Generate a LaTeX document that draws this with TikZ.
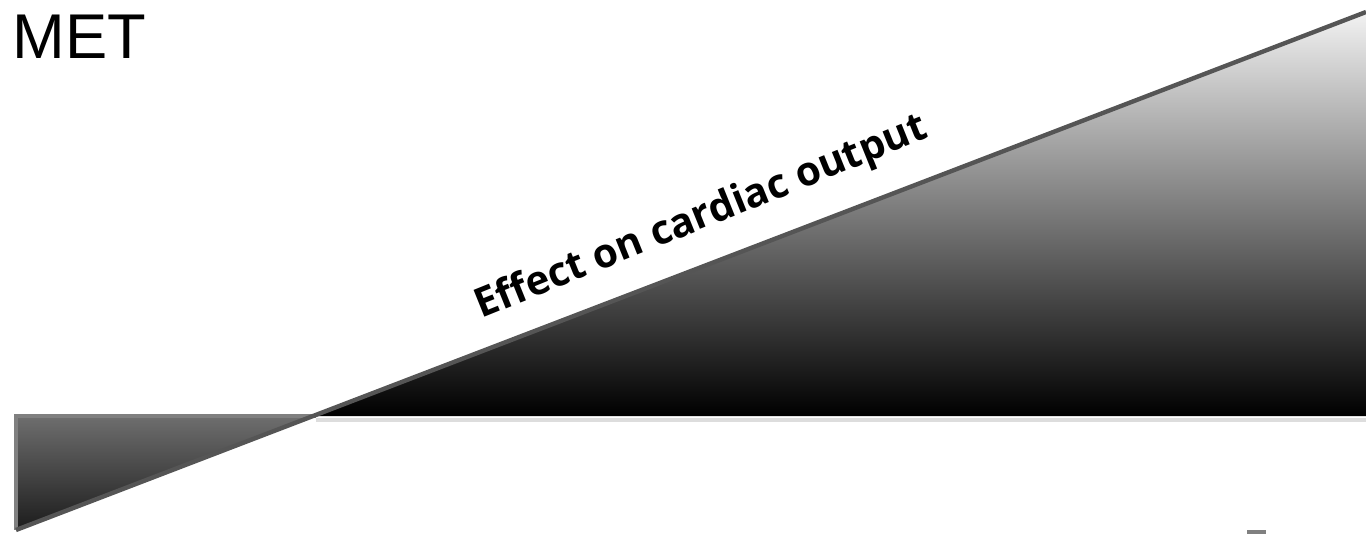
\documentclass[tikz,border=0pt]{standalone}
\usepackage{fontspec}
\setmainfont{Liberation Sans}
\newfontfamily\captionfont{Open Sans}
\usetikzlibrary{calc}
\definecolor{metline}{HTML}{555555}
\definecolor{metedge}{HTML}{808080}
\definecolor{metrule}{HTML}{DDDDDD}
\definecolor{wedgetop}{HTML}{F2F2F2}
\definecolor{wedgemid}{HTML}{858585}
\definecolor{lefttop}{HTML}{6E6E6E}
\definecolor{leftbot}{HTML}{1C1C1C}

\begin{document}
\begin{tikzpicture}[x=0.02cm, y=-0.02cm]
  \useasboundingbox (0,0) rectangle (1366,534);

  % Title
  \node[anchor=north west, inner sep=0pt, font=\fontsize{36}{40}\selectfont]
    (met) at (12,15) {MET};

  % Corners
  \coordinate (low) at (16,530);
  \coordinate (high) at (1366,12);
  \coordinate (cross) at (316,416);
  \coordinate (base) at (16,416);
  \coordinate (edge) at (1366,416);

  % Shaded wedges
  \shade[top color=wedgetop, middle color=wedgemid, bottom color=black]
    (cross) -- (edge) -- (high) -- cycle;
  \shade[top color=lefttop, bottom color=leftbot]
    (base) -- (cross) -- (low) -- cycle;

  % Edges
  \draw[metrule, line width=2] ($(cross)+(0,4)$) -- ($(edge)+(0,4)$);
  \draw[metedge, line width=2] (cross) -- (base) -- (low);
  \draw[metline, line width=2.5] (low) -- (high);

  % Label
  \coordinate (mid) at ($(low)!0.52!(high)$);
  \node[rotate=22, anchor=base, inner sep=0pt, font=\captionfont\bfseries\fontsize{23}{26}\selectfont]
    (caption) at ($(mid)!0.7cm!90:(high)$) {Effect on cardiac output};

  % Cut-off mark
  \draw[metedge, line width=3] (1247,533) -- (1266,533);
\end{tikzpicture}
\end{document}
